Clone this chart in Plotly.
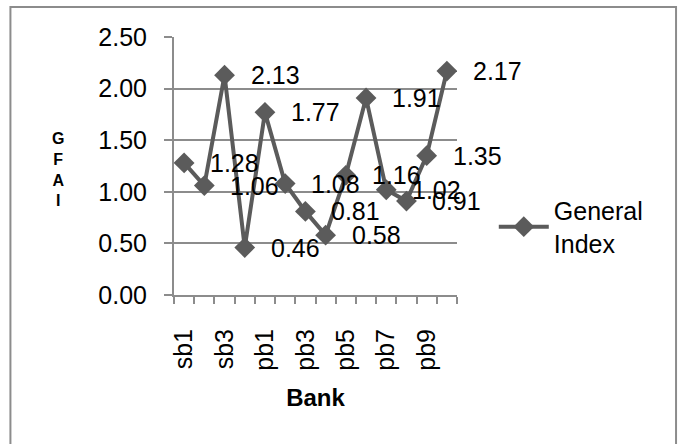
import plotly.graph_objects as go

# Bank codes along the x axis and their GFAI general index values
banks = ["sb1", "sb2", "sb3", "sb4", "pb1", "pb2", "pb3", "pb4",
         "pb5", "pb6", "pb7", "pb8", "pb9", "pb10"]
general_index = [1.28, 1.06, 2.13, 0.46, 1.77, 1.08, 0.81, 0.58,
                 1.16, 1.91, 1.02, 0.91, 1.35, 2.17]
y_ticks = [0.0, 0.5, 1.0, 1.5, 2.0, 2.5]

FONT = "Liberation Sans, Arial, sans-serif"
GREY = "#8c8c8c"
LINE = "#5b5b5b"
FS = 25

pos = list(range(1, len(banks) + 1))

fig = go.Figure()
fig.add_trace(go.Scatter(
    x=pos, y=general_index, mode="lines+markers",
    name="General<br>Index",
    line=dict(color=LINE, width=4),
    marker=dict(symbol="diamond", size=16, color=LINE),
))

# value labels to the right of each point
for xi, v in zip(pos, general_index):
    fig.add_annotation(x=xi, y=v, text=f"{v:.2f}", showarrow=False,
                       xanchor="left", yanchor="middle", xshift=24,
                       font=dict(family=FONT, size=FS, color="black"))

# stacked axis title letters
fig.add_annotation(xref="paper", yref="paper", x=-0.41, y=0.485,
                   text="<b>G<br>F<br>A<br>I</b>", showarrow=False,
                   xanchor="center", yanchor="middle", align="center",
                   font=dict(family=FONT, size=16, color="black"))

# outer chart border
fig.add_shape(type="rect", xref="paper", yref="paper",
              x0=-0.578, x1=1.774, y0=-0.7, y1=1.116,
              line=dict(color=GREY, width=2), fillcolor="rgba(0,0,0,0)")

fig.update_xaxes(
    range=[0.5, len(banks) + 0.5],
    tickmode="array", tickvals=pos[::2], ticktext=banks[::2],
    tickangle=-90, ticks="", showgrid=False,
    showline=True, linecolor=GREY, linewidth=2,
    ticklabelstandoff=22,
    minor=dict(ticks="outside", ticklen=7, tickcolor=GREY, tickwidth=2,
               tick0=0.5, dtick=1, showgrid=False),
    tickfont=dict(family=FONT, size=FS, color="black"),
    title=dict(text="<b>Bank</b>", font=dict(family=FONT, size=24, color="black"),
               standoff=19),
)
fig.update_yaxes(
    range=[0, 2.5], tickmode="array", tickvals=y_ticks, tickformat=".2f",
    ticks="outside", ticklen=8, tickcolor=GREY, tickwidth=2,
    showgrid=True, gridcolor=GREY, gridwidth=2,
    showline=True, linecolor=GREY, linewidth=2, zeroline=False,
    ticklabelstandoff=12,
    tickfont=dict(family=FONT, size=FS, color="black"),
)

fig.update_layout(
    width=678, height=444,
    margin=dict(l=174, r=221, t=37, b=149),
    paper_bgcolor="white", plot_bgcolor="white",
    showlegend=True,
    legend=dict(x=1.13, y=0.265, xanchor="left", yanchor="middle",
                font=dict(family=FONT, size=FS, color="black"),
                bgcolor="rgba(0,0,0,0)", itemwidth=50),
)

fig.write_html("out.html")
